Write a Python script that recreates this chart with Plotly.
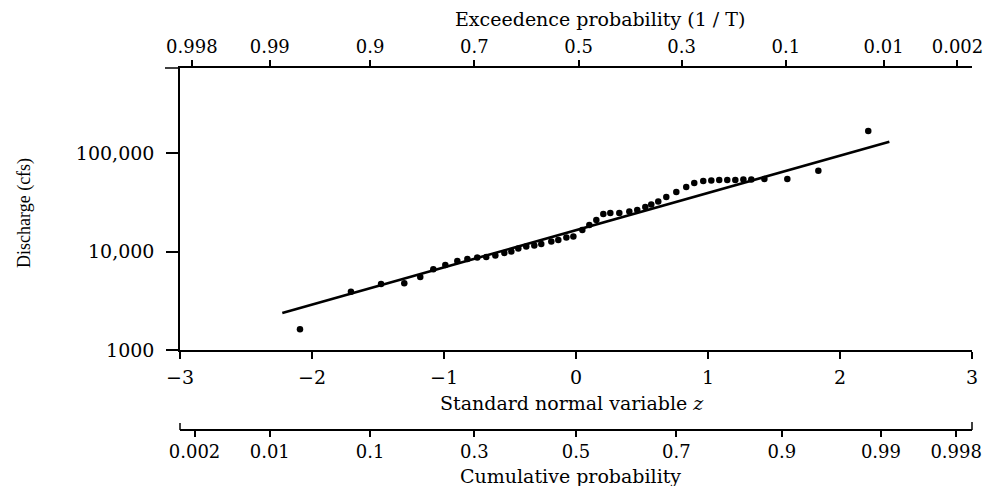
import plotly.graph_objects as go

# Standard normal variate (plotting position) of each ranked annual peak
z_values = [-2.091, -1.705, -1.477, -1.301, -1.180, -1.081, -0.990, -0.899, -0.823, -0.748,
            -0.680, -0.611, -0.543, -0.490, -0.437, -0.377, -0.316, -0.263, -0.187, -0.134,
            -0.073, -0.020, 0.048, 0.101, 0.154, 0.207, 0.260, 0.328, 0.404, 0.464,
            0.525, 0.570, 0.623, 0.684, 0.760, 0.835, 0.896, 0.964, 1.025, 1.085,
            1.146, 1.207, 1.268, 1.328, 1.427, 1.601, 1.836, 2.214]
# Annual peak discharge, cfs
discharge = [1620, 3910, 4680, 4750, 5500, 6600, 7300, 8000, 8390, 8690,
             8790, 9110, 9660, 10000, 10720, 11240, 11500, 11920, 12640, 13090,
             13870, 14200, 16530, 18570, 20890, 24030, 24600, 24600, 25470, 26380,
             28300, 29980, 32170, 35740, 40150, 45140, 49580, 51960, 52570, 53190,
             53190, 53190, 53810, 53810, 54450, 54450, 66100, 167200]

# Fitted lognormal distribution (log10 space)
mean_log = 4.217
std_log = 0.378
fit_z = [-2.225, 2.374]
fit_q = [10 ** (mean_log + std_log * z) for z in fit_z]

# Axis ticks
z_ticks = [-3, -2, -1, 0, 1, 2, 3]
q_ticks = [1000, 10000, 100000]
q_labels = ["1000", "10,000", "100,000"]
exceed_labels = ["0.998", "0.99", "0.9", "0.7", "0.5", "0.3", "0.1", "0.01", "0.002"]
exceed_z = [-2.91, -2.32, -1.56, -0.77, 0.02, 0.80, 1.59, 2.33, 2.89]
cum_labels = ["0.002", "0.01", "0.1", "0.3", "0.5", "0.7", "0.9", "0.99", "0.998"]
cum_z = [-2.89, -2.32, -1.56, -0.77, 0.0, 0.76, 1.56, 2.31, 2.88]

W, H = 987, 486
ML, MR, MT, MB = 180, 15, 68, 20
PLOT_W = W - ML - MR
PLOT_H = H - MT - MB
AXIS_Y = 350     # pixel row of the main z axis
PROB_Y = 430     # pixel row of the cumulative probability axis


def px_x(px):
    return (px - ML) / PLOT_W


def px_y(py):
    return (H - MB - py) / PLOT_H


tick_font = dict(family="DejaVu Serif", size=19, color="black")
prob_font = dict(family="DejaVu Serif", size=18, color="black")
title_font = dict(family="DejaVu Serif", size=19, color="black")
axis_style = dict(showline=True, linecolor="black", linewidth=1.5, ticks="outside",
                  tickcolor="black", tickwidth=1.5, showgrid=False, zeroline=False,
                  fixedrange=True, automargin=False)

fig = go.Figure()

fig.add_trace(go.Scatter(
    x=fit_z, y=fit_q, mode="lines",
    line=dict(color="black", width=2.6),
    hoverinfo="skip", showlegend=False,
))
fig.add_trace(go.Scatter(
    x=z_values, y=discharge, mode="markers",
    marker=dict(color="black", size=6.5),
    hoverinfo="skip", showlegend=False,
))
# The probability scales share the z range; attach the fit to them (invisibly)
# so both extra axes get rendered.
for ax in ("x2", "x3"):
    fig.add_trace(go.Scatter(
        x=fit_z, y=fit_q, xaxis=ax, yaxis="y", mode="lines",
        line=dict(width=0), opacity=0, hoverinfo="skip", showlegend=False,
    ))

fig.update_layout(
    width=W, height=H,
    margin=dict(l=ML, r=MR, t=MT, b=MB, pad=0, autoexpand=False),
    paper_bgcolor="white", plot_bgcolor="white",
    showlegend=False,
    xaxis=dict(range=[-3, 3], tickvals=z_ticks,
               ticktext=[str(v) if v >= 0 else "\u2212" + str(-v) for v in z_ticks],
               ticklen=7, anchor="y", ticklabelstandoff=2, tickfont=tick_font,
               **axis_style),
    xaxis2=dict(range=[-3, 3], overlaying="x", side="top", anchor="y",
                tickvals=exceed_z, ticktext=exceed_labels, ticklen=6,
                ticklabelstandoff=0, tickfont=prob_font, **axis_style),
    xaxis3=dict(range=[-3, 3], overlaying="x", side="bottom", anchor="free",
                position=px_y(PROB_Y), tickvals=cum_z, ticktext=cum_labels,
                ticklen=6, ticklabelstandoff=0, tickfont=prob_font, **axis_style),
    yaxis=dict(type="log", range=[3, 5.863], domain=[px_y(AXIS_Y), 1],
               tickvals=q_ticks, ticktext=q_labels, ticklen=12,
               ticklabelstandoff=8, tickfont=tick_font, **axis_style),
)

annotations = [
    dict(text="Exceedence probability (1 / T)", x=px_x(600), y=px_y(19)),
    dict(text="Standard normal variable <i>z</i>", x=px_x(572), y=px_y(403)),
    dict(text="Cumulative probability", x=px_x(570), y=px_y(476)),
]
for a in annotations:
    fig.add_annotation(xref="paper", yref="paper", showarrow=False,
                       xanchor="center", yanchor="middle", font=title_font, **a)
fig.add_annotation(text="Discharge (cfs)", xref="paper", yref="paper",
                   x=px_x(24), y=px_y(213), textangle=-90, showarrow=False,
                   xanchor="center", yanchor="middle",
                   font=dict(family="Liberation Serif", size=18, color="black"))

# End caps and extension of the probability axes
line_style = dict(color="black", width=1.5)
fig.add_shape(type="line", xref="paper", yref="paper",
              x0=px_x(165), x1=px_x(180), y0=px_y(68), y1=px_y(68), line=line_style)
fig.add_shape(type="line", xref="paper", yref="paper",
              x0=px_x(180), x1=px_x(180), y0=px_y(PROB_Y), y1=px_y(PROB_Y - 7), line=line_style)
fig.add_shape(type="line", xref="paper", yref="paper",
              x0=px_x(972), x1=px_x(972), y0=px_y(PROB_Y), y1=px_y(PROB_Y - 8), line=line_style)

fig.write_html("out.html")
